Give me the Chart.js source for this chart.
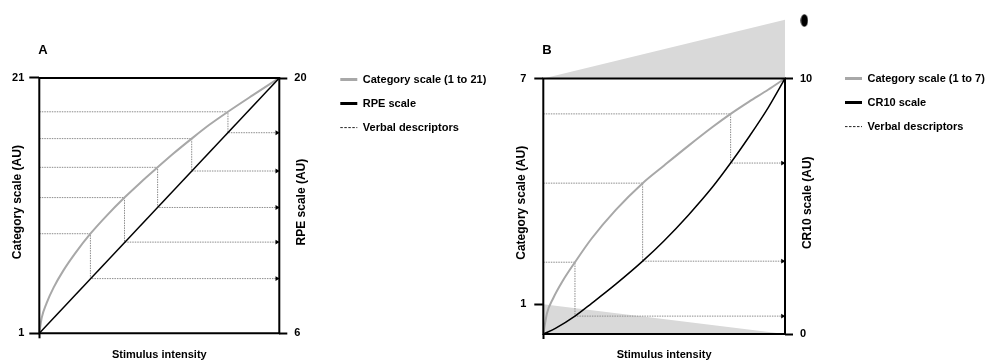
<!DOCTYPE html>
<html>
<head>
<meta charset="utf-8">
<script src="https://cdn.jsdelivr.net/npm/chart.js@4.4.1/dist/chart.umd.min.js"></script>
<style>
  body { margin: 0; background: #fff; }
  #wrap { position: relative; width: 987px; height: 360px; }
  canvas { position: absolute; top: 0; }
  #chartA { left: 0; }
  #chartB { left: 500px; }
</style>
</head>
<body>
<div id="wrap">
  <canvas id="chartA" width="500" height="360"></canvas>
  <canvas id="chartB" width="487" height="360"></canvas>
</div>
<script>
// ---- Panel A: category scale (1 to 21) against the RPE scale (6 to 20)
const stimulusA = [0, 0.01, 0.03, 0.06, 0.1, 0.15, 0.213, 0.28, 0.355, 0.42, 0.493, 0.56, 0.635, 0.71, 0.786, 0.89, 1];
const categoryA = [1, 2.21, 3.35, 4.6, 5.91, 7.28, 8.8, 10.2, 11.63, 12.78, 14.0, 15.1, 16.25, 17.35, 18.35, 19.65, 21];
const rpeStimulus = [0, 1];
const rpeValues = [6, 20];
const descStimulusA = [0.213, 0.355, 0.493, 0.635, 0.786];
const descCategoryA = [8.8, 11.63, 14.0, 16.25, 18.35];
const descRpe = [9, 11, 12.9, 14.9, 17];
const ticksCategoryA = [1, 21];
const ticksRpe = [6, 20];

// ---- Panel B: category scale (1 to 7) against the CR10 scale (0 to 10)
const stimulusB = [0, 0.015, 0.04, 0.08, 0.131, 0.2, 0.3, 0.411, 0.5, 0.6, 0.7, 0.775, 0.85, 0.93, 1];
const categoryB = [0.213, 0.76, 1.15, 1.62, 2.12, 2.75, 3.51, 4.22, 4.69, 5.21, 5.71, 6.06, 6.38, 6.7, 7];
const cr10Stimulus = [0, 0.05, 0.131, 0.2, 0.3, 0.411, 0.5, 0.6, 0.7, 0.775, 0.85, 0.93, 1];
const cr10Values = [0, 0.22, 0.7, 1.2, 1.95, 2.85, 3.65, 4.65, 5.75, 6.69, 7.7, 8.85, 10];
const descStimulusB = [0.131, 0.411, 0.775];
const descCategoryB = [2.12, 4.22, 6.06];
const descCr10 = [0.7, 2.85, 6.69];
const ticksCategoryB = [1, 7];
const ticksCr10 = [0, 10];
// shaded wedges and the marker of panel B, in category-scale units
const wedgeTopX = [0, 1];
const wedgeTopY = [7, 8.56];
const wedgeBottomX = [0, 1];
const wedgeBottomY = [1, 0.213];
const markerX = [1.08];
const markerY = [8.54];

const FONT = '"Liberation Sans", Arial, sans-serif';
Chart.defaults.font.family = FONT;
Chart.defaults.color = '#000';

function xy(xs, ys) {
  return xs.map((x, i) => ({ x: x, y: ys[i] }));
}

// dotted guide: category value -> curve -> down to the other scale -> across to its axis
function descriptorPath(stim, cat, other, toLeft) {
  const out = [];
  stim.forEach((s, i) => {
    const y2 = toLeft(other[i]);
    out.push({ x: 0, y: cat[i] }, { x: s, y: cat[i] }, { x: s, y: y2 }, { x: 1, y: y2 }, { x: s, y: null });
  });
  return out;
}

// width the legend box will take (labels padding + line sample + gap + text + 10)
function legendWidth(texts) {
  const c = document.createElement('canvas').getContext('2d');
  c.font = 'bold 11px ' + FONT;
  const w = Math.max(...texts.map(t => c.measureText(t).width));
  return 13 + 17 + 5.5 + w + 10;
}

const panelText = {
  id: 'panelText',
  afterDraw(chart, args, opts) {
    const ctx = chart.ctx;
    const left = chart.scales.x.getPixelForValue(0);
    const right = chart.scales.x.getPixelForValue(1);
    const top = chart.scales.yL.getPixelForValue(opts.top);
    const bottom = chart.scales.yL.getPixelForValue(opts.bottom);
    const mid = (top + bottom) / 2 - 3.5;
    ctx.save();
    ctx.fillStyle = '#000';
    ctx.textBaseline = 'middle';
    ctx.font = 'bold 13px ' + FONT;
    ctx.textAlign = 'left';
    ctx.fillText(opts.letter, left - 1, top - 28);
    ctx.font = 'bold 12px ' + FONT;
    ctx.textAlign = 'center';
    [[left - 22, opts.leftTitle], [right + 22.5, opts.rightTitle]].forEach(([x, text]) => {
      ctx.save();
      ctx.translate(x, mid);
      ctx.rotate(-Math.PI / 2);
      ctx.fillText(text, 0, 0);
      ctx.restore();
    });
    ctx.restore();
  }
};

function buildPanel(canvasId, p) {
  const canvas = document.getElementById(canvasId);
  const toLeft = v => p.left.min + (v - p.right.min) * (p.left.max - p.left.min) / (p.right.max - p.right.min);
  const frameTop = p.leftTicks[p.leftTicks.length - 1];
  const frame = xy([0, 0, 1, 1, 0], [p.left.min, frameTop, frameTop, p.left.min, p.left.min]);
  const legW = legendWidth([p.catLabel, p.otherLabel, 'Verbal descriptors']);
  const padRight = canvas.width - p.chartRight - p.rightWidth - legW;

  const datasets = [
    {
      label: p.catLabel, data: xy(p.catX, p.catY), yAxisID: 'yL', showLine: true,
      borderColor: '#a8a8a8', borderWidth: 2, pointRadius: 0, cubicInterpolationMode: 'monotone',
      legendWidth: 3, order: 2
    },
    {
      label: p.otherLabel, data: xy(p.otherX, p.otherY), yAxisID: 'yR', showLine: true,
      borderColor: '#000', borderWidth: 1.5, pointRadius: 0, cubicInterpolationMode: 'monotone',
      legendWidth: 3, order: 1
    },
    {
      label: 'Verbal descriptors', data: descriptorPath(p.descX, p.descCat, p.descOther, toLeft),
      yAxisID: 'yL', showLine: true, borderColor: '#8c8c8c', borderWidth: 1, borderDash: [1.5, 1],
      pointRadius: 0, legendWidth: 1, legendDash: [2.5, 1.5], legendColor: '#222', order: 3
    },
    {
      data: p.descOther.map(v => ({ x: 0.99, y: v })), yAxisID: 'yR',
      pointStyle: 'triangle', pointRotation: 90, pointRadius: 2.8,
      pointBackgroundColor: '#000', backgroundColor: '#000', pointBorderWidth: 0, order: 0
    },
    {
      data: frame, yAxisID: 'yL', showLine: true, borderColor: '#000', borderWidth: 2,
      borderCapStyle: 'square', pointRadius: 0, clip: false, order: 0
    }
  ].concat(p.extra || []);

  return new Chart(canvas, {
    type: 'scatter',
    data: { datasets: datasets },
    plugins: [panelText],
    options: {
      responsive: false,
      animation: false,
      events: [],
      devicePixelRatio: 1,
      layout: { autoPadding: false, padding: { top: 14, left: 0, right: padRight, bottom: 0 } },
      plugins: {
        tooltip: { enabled: false },
        panelText: { letter: p.letter, leftTitle: p.leftTitle, rightTitle: p.rightTitle, top: frameTop, bottom: p.left.min },
        legend: {
          position: 'right',
          align: 'start',
          maxWidth: Math.ceil(legW) + 2,
          title: { display: true, text: ' ', font: { size: 10, lineHeight: 1 }, padding: { top: p.legendGap, bottom: 0 } },
          labels: {
            usePointStyle: true,
            pointStyleWidth: 17,
            padding: 13,
            color: '#000',
            font: { size: 11, weight: 'bold' },
            generateLabels: chart => chart.data.datasets.map((ds, i) => ds.legendWidth ? {
              text: ds.label,
              fillStyle: ds.legendColor || ds.borderColor,
              strokeStyle: ds.legendColor || ds.borderColor,
              lineWidth: ds.legendWidth,
              lineDash: ds.legendDash || [],
              pointStyle: 'line',
              fontColor: '#000',
              hidden: false,
              datasetIndex: i
            } : null).filter(Boolean)
          }
        }
      },
      scales: {
        x: {
          type: 'linear', min: 0, max: 1,
          afterBuildTicks: s => { s.ticks = [{ value: 0 }]; },
          ticks: { callback: () => '' },
          grid: { drawOnChartArea: false, tickLength: 5, tickWidth: 2, tickColor: '#000' },
          border: { display: false },
          title: { display: true, text: 'Stimulus intensity', color: '#000', font: { size: 11, weight: 'bold', lineHeight: 1 }, padding: 0 },
          afterFit: s => { s.height = p.xHeight; }
        },
        yL: {
          type: 'linear', position: 'left', min: p.left.min, max: p.left.max,
          afterBuildTicks: s => { s.ticks = p.leftTicks.map(v => ({ value: v })); },
          ticks: { font: { size: 11, weight: 'bold' }, color: '#000', padding: p.leftPad },
          grid: { drawOnChartArea: false, tickLength: p.leftTickLen, tickWidth: 2, tickColor: '#000' },
          border: { display: false },
          afterFit: s => { s.width = p.leftWidth; }
        },
        yR: {
          type: 'linear', position: 'right', min: p.right.min, max: p.right.max,
          afterBuildTicks: s => { s.ticks = p.rightTicks.map(v => ({ value: v })); },
          ticks: { font: { size: 11, weight: 'bold' }, color: '#000', padding: 7 },
          grid: { drawOnChartArea: false, tickLength: 8, tickWidth: 2, tickColor: '#000' },
          border: { display: false },
          afterFit: s => { s.width = p.rightWidth; }
        }
      }
    }
  });
}

buildPanel('chartA', {
  letter: 'A',
  leftTitle: 'Category scale (AU)',
  rightTitle: 'RPE scale (AU)',
  catLabel: 'Category scale (1 to 21)',
  otherLabel: 'RPE scale',
  catX: stimulusA, catY: categoryA,
  otherX: rpeStimulus, otherY: rpeValues,
  descX: descStimulusA, descCat: descCategoryA, descOther: descRpe,
  leftTicks: ticksCategoryA, rightTicks: ticksRpe,
  left: { min: 1, max: 26.01 },
  right: { min: 6, max: 23.51 },
  leftWidth: 39.3, rightWidth: 48, chartRight: 279.3, xHeight: 26.7,
  leftPad: 5, leftTickLen: 10, legendGap: 37.1
});

// elongated black marker above the CR10 axis
const dot = document.createElement('canvas');
dot.width = 8;
dot.height = 13;
const dctx = dot.getContext('2d');
dctx.fillStyle = '#000';
dctx.beginPath();
dctx.ellipse(4, 6.5, 3.6, 6.2, 0, 0, Math.PI * 2);
dctx.fill();

buildPanel('chartB', {
  letter: 'B',
  leftTitle: 'Category scale (AU)',
  rightTitle: 'CR10 scale (AU)',
  catLabel: 'Category scale (1 to 7)',
  otherLabel: 'CR10 scale',
  catX: stimulusB, catY: categoryB,
  otherX: cr10Stimulus, otherY: cr10Values,
  descX: descStimulusB, descCat: descCategoryB, descOther: descCr10,
  leftTicks: ticksCategoryB, rightTicks: ticksCr10,
  left: { min: 0.213, max: 8.697 },
  right: { min: 0, max: 12.5 },
  leftWidth: 43.3, rightWidth: 47, chartRight: 285, xHeight: 26,
  leftPad: 8, leftTickLen: 9, legendGap: 36.1,
  extra: [
    {
      data: xy(wedgeTopX, wedgeTopY), yAxisID: 'yL', showLine: true, borderWidth: 0,
      borderColor: 'rgba(0,0,0,0)', pointRadius: 0, fill: { value: 7 }, backgroundColor: '#d9d9d9', order: 10
    },
    {
      data: xy(wedgeBottomX, wedgeBottomY), yAxisID: 'yL', showLine: true, borderWidth: 0,
      borderColor: 'rgba(0,0,0,0)', pointRadius: 0, fill: 'start', backgroundColor: '#d9d9d9', order: 10
    },
    {
      data: xy(markerX, markerY), yAxisID: 'yL', pointStyle: dot, pointRadius: 30, clip: false, order: 0
    }
  ]
});
</script>
</body>
</html>
